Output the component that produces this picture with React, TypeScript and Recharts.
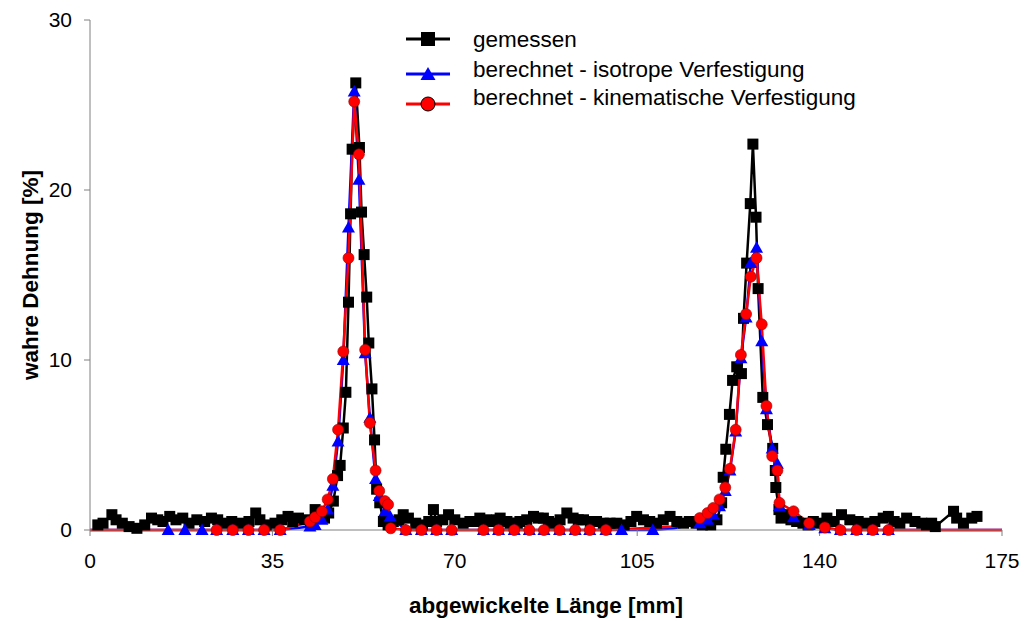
import React from 'react';
import { LineChart, Line, XAxis, YAxis } from 'recharts';

// Achsen
const xTicks = [0, 35, 70, 105, 140, 175];
const yTicks = [0, 10, 20, 30];

// gemessen: [abgewickelte Länge mm, wahre Dehnung %]
const gemessen: [number, number][] = [
  [1.5, 0.3], [2.5, 0.4], [4.2, 0.9], [5.0, 0.6], [6.2, 0.4], [7.5, 0.2], [9.0, 0.1], [10.5, 0.3],
  [11.8, 0.7], [13.0, 0.6], [14.0, 0.5], [15.3, 0.8], [16.5, 0.6], [17.8, 0.7], [19.0, 0.4], [20.5, 0.6],
  [22.0, 0.5], [23.3, 0.7], [24.5, 0.6], [25.8, 0.4], [27.2, 0.5], [28.5, 0.4], [30.5, 0.5], [31.8, 1.0],
  [32.6, 0.6], [33.8, 0.3], [35.5, 0.4], [36.8, 0.6], [38.0, 0.8], [38.9, 0.5], [40.0, 0.7], [41.2, 0.6],
  [42.3, 0.5], [43.2, 1.2], [44.2, 0.8], [45.0, 0.7], [45.8, 1.0], [46.7, 1.7], [47.5, 3.2], [48.0, 3.8],
  [48.6, 6.0], [49.1, 8.1], [49.6, 13.4], [50.0, 18.6], [50.3, 22.4], [51.0, 26.3], [51.7, 22.5], [52.1, 18.7],
  [52.6, 16.2], [53.1, 13.7], [53.5, 11.0], [54.1, 8.3], [54.6, 5.3], [55.0, 2.4], [55.6, 1.6], [56.3, 0.5],
  [57.2, 0.3], [58.2, 0.5], [59.3, 0.6], [60.1, 0.9], [61.1, 0.7], [62.5, 0.4], [63.8, 0.3], [65.0, 0.5],
  [65.9, 1.2], [66.5, 0.5], [67.7, 0.6], [68.8, 0.9], [70.0, 0.6], [71.6, 0.4], [72.9, 0.5], [74.0, 0.5],
  [74.8, 0.7], [76.0, 0.6], [76.8, 0.5], [78.0, 0.6], [78.7, 0.7], [80.0, 0.5], [80.6, 0.4], [82.0, 0.4],
  [82.5, 0.5], [83.8, 0.6], [85.1, 0.8], [86.0, 0.7], [87.0, 0.7], [88.0, 0.5], [88.9, 0.4], [90.2, 0.6],
  [91.5, 1.0], [92.7, 0.7], [93.7, 0.6], [94.7, 0.6], [96.0, 0.5], [97.2, 0.5], [98.5, 0.4], [99.8, 0.4],
  [101.1, 0.4], [102.5, 0.3], [103.8, 0.5], [104.9, 0.8], [106.2, 0.6], [107.4, 0.5], [108.7, 0.4], [110.0, 0.6],
  [111.3, 0.8], [112.6, 0.5], [113.9, 0.4], [115.0, 0.5], [116.3, 0.4], [117.5, 0.3], [119.1, 0.3], [120.3, 0.6],
  [121.2, 1.6], [121.5, 3.1], [122.0, 4.75], [122.7, 6.8], [123.3, 8.8], [124.1, 9.6], [125.0, 9.2], [125.4, 12.45],
  [126.0, 15.7], [126.7, 19.2], [127.2, 22.7], [127.8, 18.4], [128.2, 14.2], [129.1, 7.8], [130.0, 6.2], [131.0, 4.8],
  [131.5, 3.5], [131.6, 2.5], [132.2, 1.2], [132.6, 0.7], [133.5, 0.9], [134.5, 0.6], [135.6, 0.5], [136.8, 0.4],
  [137.8, 0.3], [138.8, 0.5], [140.0, 0.4], [141.4, 0.7], [142.8, 0.5], [144.2, 0.9], [145.8, 0.6], [147.4, 0.5],
  [149.0, 0.4], [150.6, 0.5], [152.2, 0.7], [153.2, 0.8], [154.3, 0.5], [155.4, 0.4], [156.7, 0.7], [158.3, 0.5],
  [159.6, 0.4], [160.5, 0.3], [161.5, 0.4], [162.2, 0.2], [165.7, 1.1], [166.3, 0.7], [167.6, 0.4], [169.2, 0.7],
  [170.2, 0.8],
];

// berechnet - isotrope Verfestigung (Knoten mit Marker)
const isotrop: [number, number][] = [
  [15.0, 0], [18.2, 0], [21.5, 0], [24.3, 0], [27.4, 0], [30.4, 0], [33.4, 0], [36.5, 0],
  [42.2, 0.2], [43.2, 0.3], [44.5, 0.6], [45.6, 1.2], [46.6, 2.6], [47.6, 5.2], [48.6, 10.0], [49.6, 17.8],
  [50.7, 25.8], [51.6, 20.6], [52.8, 10.4], [53.7, 6.6], [54.8, 3.0], [55.5, 2.0], [56.6, 1.1], [57.6, 0.8],
  [60.6, 0], [63.6, 0], [66.5, 0], [69.4, 0], [75.5, 0], [78.4, 0], [81.4, 0], [84.3, 0],
  [87.1, 0], [90.1, 0], [93.1, 0], [95.9, 0], [99.0, 0], [102.0, 0], [108.0, 0],
  [117.0, 0.4], [118.5, 0.6], [119.6, 0.9], [120.8, 1.4], [121.9, 2.3], [122.8, 3.5], [123.9, 5.8], [124.9, 10.1],
  [125.9, 12.5], [126.8, 15.7], [127.9, 16.6], [128.9, 11.1], [129.8, 7.1], [130.9, 4.8], [131.9, 3.9], [132.3, 1.4],
  [135.0, 0.75], [138.0, 0.3], [141.0, 0.1], [144.0, 0], [147.1, 0], [150.2, 0], [153.2, 0],
];
// Stützpunkte ohne Marker
const isotropOhneMarker: [number, number][] = [[0, 0], [112.0, 0.1], [165.0, 0], [175.0, 0]];

// berechnet - kinematische Verfestigung (Knoten mit Marker)
const kinematisch: [number, number][] = [
  [24.3, 0], [27.4, 0], [30.4, 0], [33.4, 0], [36.5, 0],
  [42.2, 0.5], [43.2, 0.75], [44.5, 1.1], [45.6, 1.8], [46.6, 3.0], [47.6, 5.9], [48.6, 10.5], [49.6, 16.0],
  [50.7, 25.2], [51.6, 22.1], [52.8, 10.6], [53.7, 6.3], [54.8, 3.5], [55.5, 2.3], [56.6, 1.7], [57.2, 1.5],
  [57.7, 0.1], [60.6, 0], [63.6, 0], [66.5, 0], [69.4, 0], [75.5, 0], [78.4, 0], [81.4, 0],
  [84.3, 0], [87.1, 0], [90.1, 0], [93.1, 0], [95.9, 0], [99.0, 0],
  [117.0, 0.7], [118.5, 1.0], [119.6, 1.3], [120.8, 1.8], [121.9, 2.5], [122.8, 3.6], [123.9, 5.9], [124.9, 10.3],
  [125.9, 12.7], [126.8, 14.9], [127.9, 16.0], [128.9, 12.1], [129.8, 7.3], [130.9, 4.35], [131.9, 3.5], [132.3, 1.6],
  [135.0, 1.1], [138.0, 0.4], [141.0, 0.15], [144.0, 0], [147.1, 0], [150.2, 0], [153.2, 0],
];
const kinematischOhneMarker: [number, number][] = [[0, 0], [112.0, 0.2], [165.0, 0], [175.0, 0]];

const toRows = (pts: [number, number][]) => pts.map(([x, y]) => ({ x, y }));
const merged = (a: [number, number][], b: [number, number][]) =>
  toRows([...a, ...b].sort((p, q) => p[0] - q[0]));

const FONT = '"Liberation Sans", Arial, sans-serif';
const AXIS = '#808080';

const Square = (p: any) => (
  <rect key={`s${p.index}`} x={p.cx - 5.5} y={p.cy - 5.5} width={11} height={11} fill="#000000" />
);
const Triangle = (p: any) => (
  <polygon
    key={`t${p.index}`}
    points={`${p.cx},${p.cy - 6.5} ${p.cx + 6.5},${p.cy + 5} ${p.cx - 6.5},${p.cy + 5}`}
    fill="#0000FF"
  />
);
const Circle = (p: any) => (
  <circle key={`c${p.index}`} cx={p.cx} cy={p.cy} r={5.5} fill="#FF0000" stroke="#990000" strokeWidth={0.6} />
);

const legendRows = [
  { name: 'gemessen', color: '#000000', marker: 'square' },
  { name: 'berechnet - isotrope Verfestigung', color: '#0000FF', marker: 'triangle' },
  { name: 'berechnet - kinematische Verfestigung', color: '#FF0000', marker: 'circle' },
];

const Legende = () => {
  const lineY = [31, 66, 96];
  const textY = [39, 69, 97];
  return (
    <svg width={1013} height={130} style={{ position: 'absolute', left: 0, top: 0, pointerEvents: 'none' }}>
      {legendRows.map((r, i) => {
        const cx = 420;
        const cy = lineY[i];
        return (
          <g key={r.name}>
            <line x1={398} x2={442} y1={cy} y2={cy} stroke={r.color} strokeWidth={3} />
            {r.marker === 'square' && <rect x={cx - 7} y={cy - 7} width={14} height={14} fill="#000" />}
            {r.marker === 'triangle' && (
              <polygon points={`${cx},${cy - 7} ${cx + 7.5},${cy + 6} ${cx - 7.5},${cy + 6}`} fill="#0000FF" />
            )}
            {r.marker === 'circle' && <circle cx={cx} cy={cy} r={7} fill="#FF0000" stroke="#000" strokeWidth={1} />}
            <text x={465} y={textY[i]} fontFamily={FONT} fontSize={22.5} fill="#000">
              {r.name}
            </text>
          </g>
        );
      })}
    </svg>
  );
};

export default function App() {
  return (
    <div style={{ position: 'relative', width: 1013, height: 613 }}>
      <LineChart width={1013} height={613} margin={{ top: 12, right: 19, bottom: 0, left: 0 }}>
        <XAxis
          type="number"
          dataKey="x"
          domain={[0, 175]}
          ticks={xTicks}
          interval={0}
          height={91}
          tickSize={6}
          tickMargin={17}
          stroke={AXIS}
          tick={{ fill: '#000', fontSize: 21, fontFamily: FONT }}
          label={() => (
            <text x={538} y={605} textAnchor="middle" fontFamily={FONT} fontSize={22.5} fontWeight="bold" fill="#000">
              abgewickelte Länge [mm]
            </text>
          )}
        />
        <YAxis
          type="number"
          domain={[0, 30]}
          ticks={yTicks}
          interval={0}
          width={82}
          tickSize={6}
          tickMargin={12}
          stroke={AXIS}
          tick={{ fill: '#000', fontSize: 21, fontFamily: FONT }}
          label={() => (
            <text x={22} y={267} transform="rotate(-90 22 267)" textAnchor="middle" dominantBaseline="central" fontFamily={FONT} fontSize={22.5} fontWeight="bold" fill="#000">
              wahre Dehnung [%]
            </text>
          )}
        />
        <Line data={toRows(gemessen)} dataKey="y" type="linear" stroke="#000000" strokeWidth={2.5}
          dot={Square} activeDot={false} isAnimationActive={false} legendType="none" />
        <Line data={merged(isotrop, isotropOhneMarker)} dataKey="y" type="linear" stroke="#0000FF" strokeWidth={2.5}
          dot={false} activeDot={false} isAnimationActive={false} legendType="none" />
        <Line data={toRows(isotrop)} dataKey="y" type="linear" stroke="none"
          dot={Triangle} activeDot={false} isAnimationActive={false} legendType="none" />
        <Line data={merged(kinematisch, kinematischOhneMarker)} dataKey="y" type="linear" stroke="#FF0000" strokeWidth={2.5}
          dot={false} activeDot={false} isAnimationActive={false} legendType="none" />
        <Line data={toRows(kinematisch)} dataKey="y" type="linear" stroke="none"
          dot={Circle} activeDot={false} isAnimationActive={false} legendType="none" />
      </LineChart>
      <Legende />
    </div>
  );
}
